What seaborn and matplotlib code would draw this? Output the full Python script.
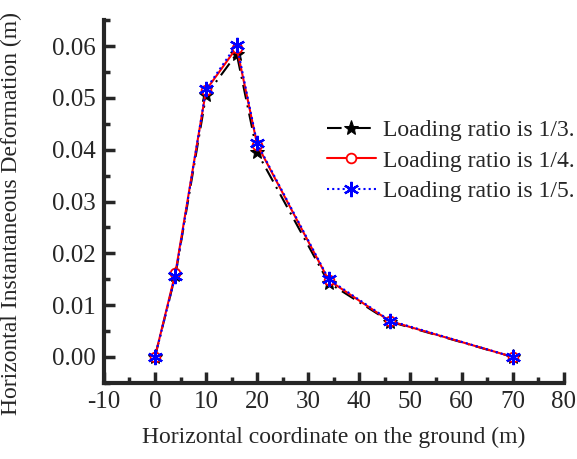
import matplotlib
matplotlib.use("Agg")
import matplotlib.pyplot as plt
import seaborn as sns
import pandas as pd
from matplotlib.ticker import MultipleLocator

x = [0, 4, 10, 16, 20, 34, 46, 70]
ratio_13 = [0.0, 0.0158, 0.0505, 0.0585, 0.0395, 0.0143, 0.0068, 0.0]
ratio_14 = [0.0, 0.0162, 0.0515, 0.0597, 0.0410, 0.0148, 0.0069, 0.0]
ratio_15 = [0.0, 0.0157, 0.0517, 0.0603, 0.0412, 0.0150, 0.0070, 0.0]
labels = ["Loading ratio is 1/3.", "Loading ratio is 1/4.", "Loading ratio is 1/5."]

sns.set_style("ticks")
plt.rcParams['font.family'] = ['Liberation Serif', 'DejaVu Serif']
plt.rcParams['axes.unicode_minus'] = False

fig = plt.figure(figsize=(5.77, 4.59), dpi=100)
ax = fig.add_axes([0.180, 0.166, 0.977 - 0.180, 0.956 - 0.166])

df13 = pd.DataFrame({"x": x, "y": ratio_13})
df14 = pd.DataFrame({"x": x, "y": ratio_14})
df15 = pd.DataFrame({"x": x, "y": ratio_15})

sns.lineplot(data=df13, x="x", y="y", ax=ax, color="black", lw=1.5,
             linestyle=(0, (7, 3, 1, 3)), marker="*", markersize=11,
             markeredgecolor="black", markerfacecolor="black", label=labels[0])
sns.lineplot(data=df14, x="x", y="y", ax=ax, color="red", lw=1.5,
             linestyle="-", marker="o", markersize=7, markerfacecolor="white",
             markeredgecolor="red", markeredgewidth=1.3, label=labels[1])
sns.lineplot(data=df15, x="x", y="y", ax=ax, color="blue", lw=1.5,
             linestyle=(0, (1, 1.5)), marker=(6, 2, 0), markersize=11,
             markeredgecolor="blue", markeredgewidth=1.6, label=labels[2])

ax.set_xlim(-10, 80)
ax.set_ylim(-0.005, 0.065)
ax.xaxis.set_major_locator(MultipleLocator(10))
ax.xaxis.set_minor_locator(MultipleLocator(5))
ax.yaxis.set_minor_locator(MultipleLocator(0.005))
ax.set_yticks([0, 0.01, 0.02, 0.03, 0.04, 0.05, 0.06])
ax.set_yticklabels(["0.00", "0.01", "0.02", "0.03", "0.04", "0.05", "0.06"])

for s in ["top", "right"]:
    ax.spines[s].set_visible(False)
for s in ["left", "bottom"]:
    ax.spines[s].set_linewidth(3)
ax.tick_params(which="major", direction="in", length=8, width=2.5, labelsize=18, pad=6)
ax.tick_params(which="minor", direction="in", length=4, width=2.5)

ax.set_xlabel("Horizontal coordinate on the ground (m)", fontsize=17, labelpad=10)
ax.set_ylabel("Horizontal Instantaneous Deformation (m)", fontsize=17)
ax.yaxis.set_label_coords(-0.178, 0.466)

leg = ax.legend(loc="center left", bbox_to_anchor=(0.485, 0.612), frameon=False,
                fontsize=17, handlelength=2.07, handletextpad=0.3, labelspacing=0.38,
                borderaxespad=0, borderpad=0)

fig.savefig("out.png", dpi=100)
